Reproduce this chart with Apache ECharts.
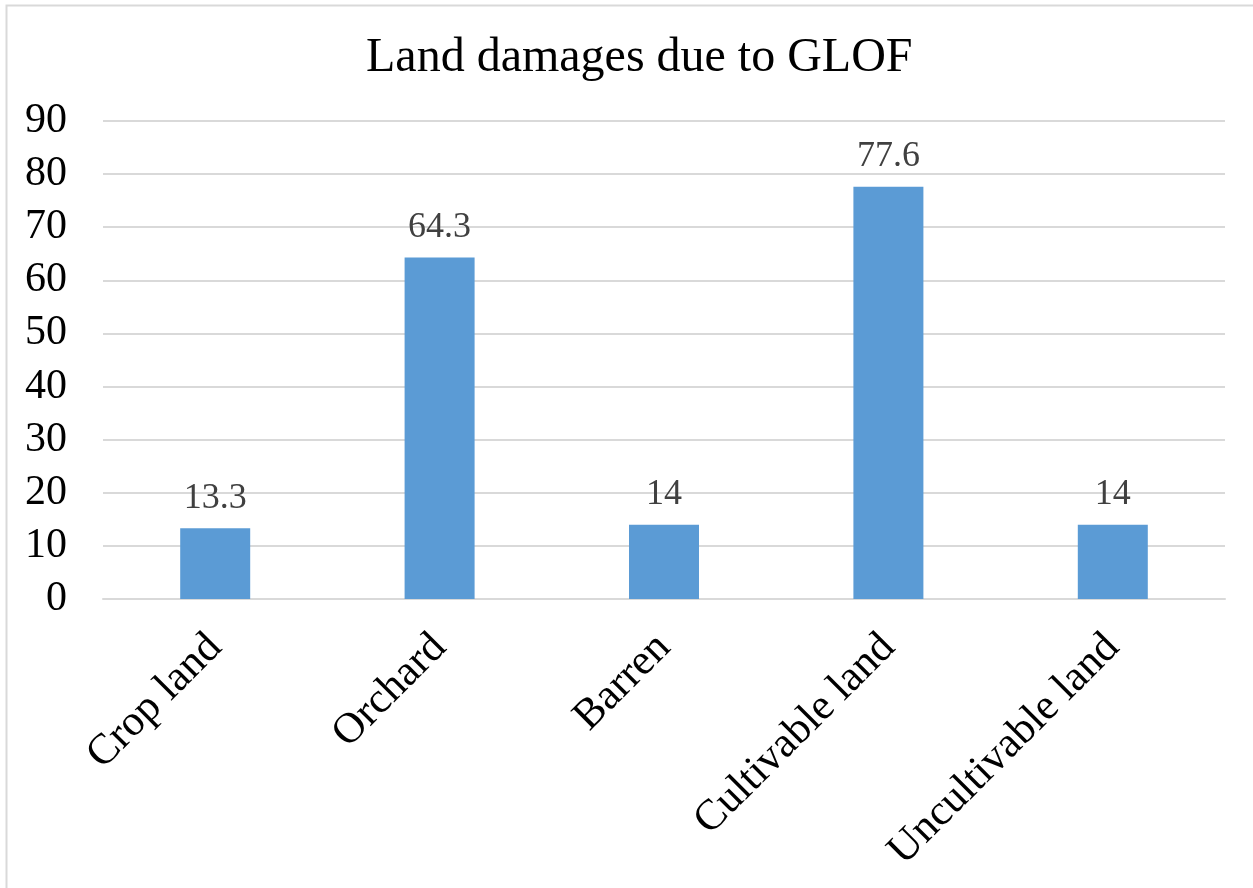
<!DOCTYPE html>
<html>
<head>
<meta charset="utf-8">
<script src="https://cdn.jsdelivr.net/npm/echarts@6/dist/echarts.min.js"></script>
<style>
html,body{margin:0;padding:0;background:#fff;}
#chart{width:1253px;height:888px;}
</style>
</head>
<body>
<div id="chart"></div>
<script>
const titleText = "Land damages due to GLOF";
const categories = ["Crop land", "Orchard", "Barren", "Cultivable land", "Uncultivable land"];
const values = [13.3, 64.3, 14, 77.6, 14];
const yTicks = { min: 0, max: 90, interval: 10 };

const FONT = '"Liberation Serif", "Times New Roman", serif';
const chart = echarts.init(document.getElementById('chart'), null, { renderer: 'canvas' });
chart.setOption({
  backgroundColor: '#fff',
  animation: false,
  graphic: [{
    type: 'rect',
    shape: { x: 6.5, y: 5.5, width: 1300, height: 1000 },
    style: { fill: 'none', stroke: '#D9D9D9', lineWidth: 2 },
    silent: true
  }],
  title: {
    text: titleText,
    left: 361,
    top: 29,
    textStyle: { fontFamily: FONT, fontSize: 48, fontWeight: 'normal', color: '#000' }
  },
  grid: { left: 103, right: 28, top: 121, bottom: 289, containLabel: false },
  xAxis: {
    type: 'category',
    data: categories,
    axisLine: { show: true, lineStyle: { color: '#D9D9D9', width: 2 } },
    axisTick: { show: false },
    axisLabel: {
      rotate: 45, interval: 0, margin: 42,
      fontFamily: FONT, fontSize: 43, color: '#000'
    }
  },
  yAxis: {
    type: 'value',
    min: yTicks.min, max: yTicks.max, interval: yTicks.interval,
    axisLine: { show: false },
    axisTick: { show: false },
    splitLine: { lineStyle: { color: '#D9D9D9', width: 2 } },
    axisLabel: { margin: 36, fontFamily: FONT, fontSize: 42, color: '#000' }
  },
  series: [{
    type: 'bar',
    data: values,
    barWidth: 70,
    itemStyle: { color: '#5B9BD5' },
    label: {
      show: true, position: 'top', distance: 12,
      fontFamily: FONT, fontSize: 36, color: '#404040'
    }
  }]
});
</script>
</body>
</html>
